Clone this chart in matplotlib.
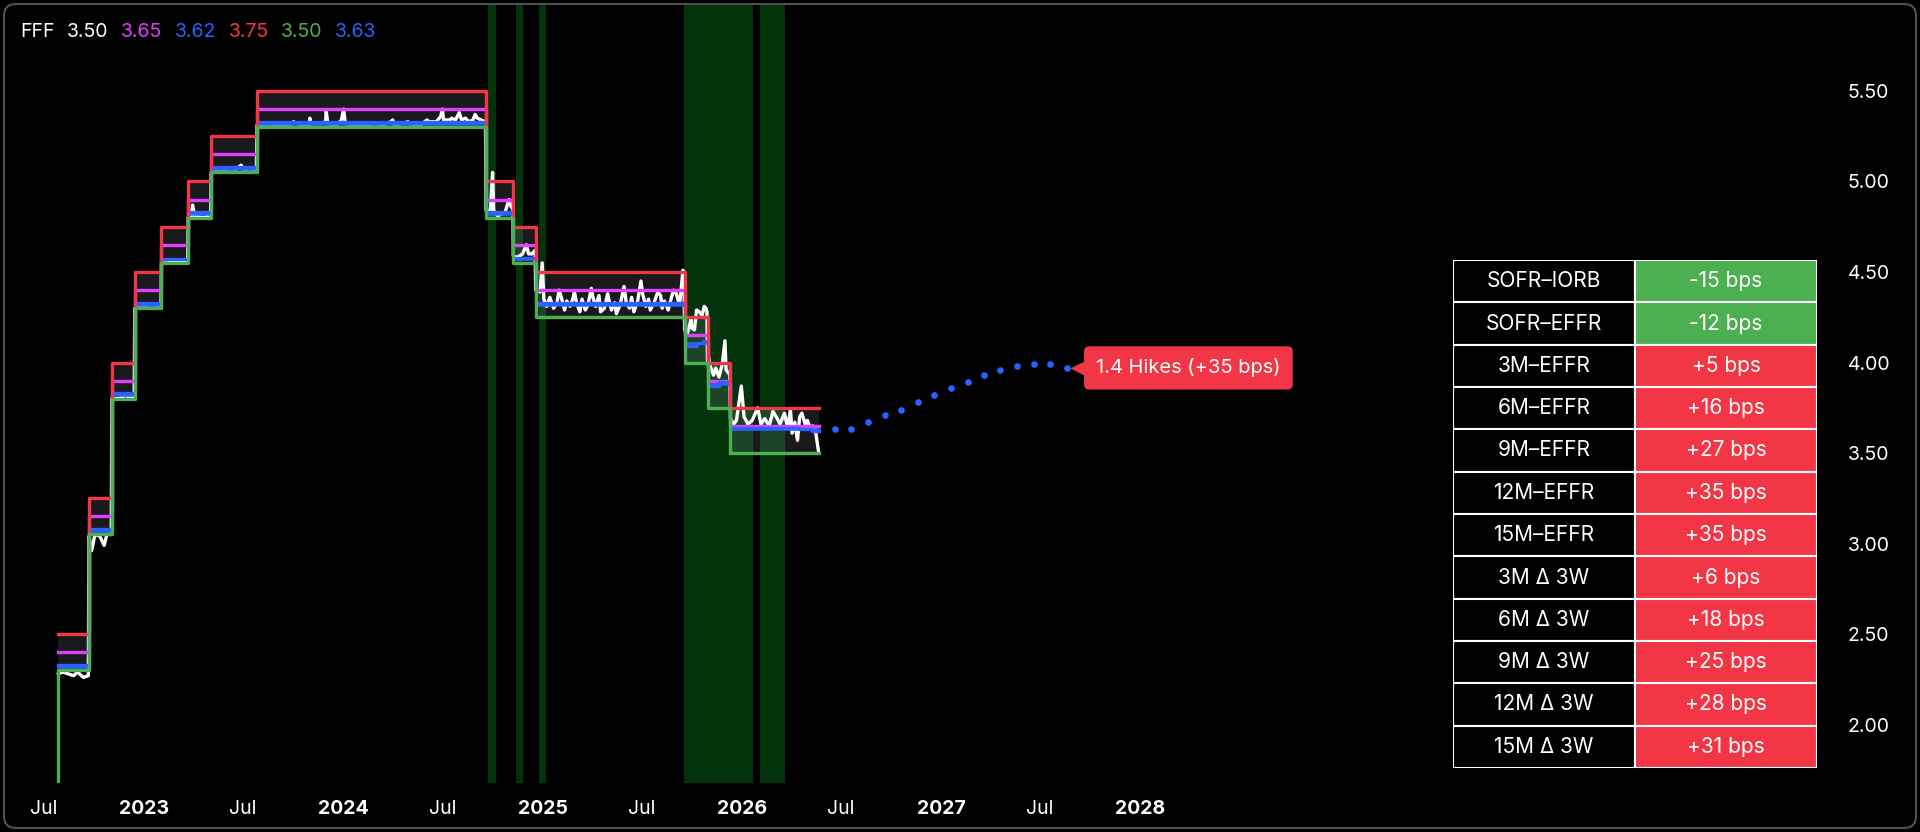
import numpy as np
import pandas as pd
import matplotlib
matplotlib.use('Agg')
import matplotlib.pyplot as plt
import matplotlib.dates as mdates
from matplotlib.patches import FancyBboxPatch, Rectangle
from matplotlib.transforms import IdentityTransform, offset_copy

plt.rcParams['font.family'] = ['Inter', 'DejaVu Sans']

# policy corridor, one value per FOMC regime (effective dates)
regime_start = ['2022-07-28', '2022-09-22', '2022-11-03', '2022-12-15', '2023-02-02',
                '2023-03-23', '2023-05-04', '2023-07-27', '2024-09-19', '2024-11-08',
                '2024-12-19', '2025-09-18', '2025-10-30', '2025-12-11']
last_day = '2026-05-22'
upper = [2.50, 3.25, 4.00, 4.50, 4.75, 5.00, 5.25, 5.50, 5.00, 4.75, 4.50, 4.25, 4.00, 3.75]
iorb = [2.40, 3.15, 3.90, 4.40, 4.65, 4.90, 5.15, 5.40, 4.90, 4.65, 4.40, 4.15, 3.90, 3.65]
rrp = [2.30, 3.05, 3.80, 4.30, 4.55, 4.80, 5.05, 5.30, 4.80, 4.55, 4.25, 4.00, 3.75, 3.50]
obfr = [2.32, 3.07, 3.82, 4.32, 4.57, 4.82, 5.07, 5.32, 4.82, 4.57, 4.32, 4.11, 3.88, 3.63]
rrp_before = 1.55

effr_dates = ['2022-07-28', '2022-09-22', '2022-11-03', '2022-12-15', '2023-02-02',
              '2023-03-23', '2023-05-04', '2023-07-27', '2024-09-19', '2024-11-08',
              '2024-12-19', '2025-09-18', '2025-10-10', '2025-10-22', '2025-10-30',
              '2025-11-20', '2025-12-11', '2026-03-01', '2026-04-15', '2026-05-10', '2026-05-22']
effr_vals = [2.33, 3.08, 3.83, 4.33, 4.57, 4.83, 5.08, 5.33, 4.83, 4.58,
             4.33, 4.09, 4.11, 4.12, 3.87, 3.89, 3.64, 3.64, 3.63, 3.62, 3.62]

sofr_dates = [
    '2022-07-28', '2022-08-05', '2022-08-15', '2022-08-25', '2022-09-01', '2022-09-12', '2022-09-21',
    '2022-09-22', '2022-09-27', '2022-10-03', '2022-10-12', '2022-10-20', '2022-10-25', '2022-11-02',
    '2022-11-03', '2022-11-15', '2022-11-30', '2022-12-05', '2022-12-14',
    '2022-12-15', '2022-12-30', '2023-01-10', '2023-01-20', '2023-02-01',
    '2023-02-02', '2023-02-15', '2023-02-28', '2023-03-10', '2023-03-22',
    '2023-03-23', '2023-03-29', '2023-03-31', '2023-04-04', '2023-04-18', '2023-05-03',
    '2023-05-04', '2023-05-20', '2023-06-12', '2023-06-28', '2023-07-03', '2023-07-14', '2023-07-26',
    '2023-07-27', '2023-08-15', '2023-09-01', '2023-09-20', '2023-10-02', '2023-10-16', '2023-10-31',
    '2023-11-01', '2023-11-03', '2023-11-20', '2023-11-30', '2023-12-01', '2023-12-04', '2023-12-20',
    '2023-12-29', '2024-01-02', '2024-01-05', '2024-01-25', '2024-02-15', '2024-03-01', '2024-03-15',
    '2024-03-28', '2024-04-01', '2024-04-04', '2024-04-29', '2024-05-01', '2024-05-20', '2024-06-03',
    '2024-06-06', '2024-06-20', '2024-06-28', '2024-07-01', '2024-07-03', '2024-07-15', '2024-07-18',
    '2024-07-25', '2024-08-01', '2024-08-05', '2024-08-12', '2024-08-19', '2024-08-26', '2024-08-30',
    '2024-09-03', '2024-09-10', '2024-09-18',
    '2024-09-19', '2024-09-27', '2024-10-01', '2024-10-03', '2024-10-10', '2024-10-18', '2024-10-24',
    '2024-10-31', '2024-11-04', '2024-11-07',
    '2024-11-08', '2024-11-15', '2024-11-25', '2024-12-02', '2024-12-06', '2024-12-12', '2024-12-18',
    '2024-12-19', '2024-12-27', '2024-12-31', '2025-01-03', '2025-01-08', '2025-01-14', '2025-01-21',
    '2025-01-27', '2025-01-31', '2025-02-04', '2025-02-10', '2025-02-14', '2025-02-20', '2025-02-25',
    '2025-02-28', '2025-03-04', '2025-03-10', '2025-03-14', '2025-03-20', '2025-03-25', '2025-03-31',
    '2025-04-03', '2025-04-08', '2025-04-14', '2025-04-17', '2025-04-24', '2025-04-30', '2025-05-02',
    '2025-05-07', '2025-05-13', '2025-05-16', '2025-05-23', '2025-05-30', '2025-06-03', '2025-06-09',
    '2025-06-13', '2025-06-17', '2025-06-24', '2025-06-30', '2025-07-03', '2025-07-09', '2025-07-14',
    '2025-07-17', '2025-07-24', '2025-07-31', '2025-08-05', '2025-08-08', '2025-08-12', '2025-08-19',
    '2025-08-25', '2025-08-29', '2025-09-03', '2025-09-08', '2025-09-10', '2025-09-15', '2025-09-17',
    '2025-09-18', '2025-09-22', '2025-09-30', '2025-10-01', '2025-10-06', '2025-10-10', '2025-10-15',
    '2025-10-20', '2025-10-24', '2025-10-27', '2025-10-29',
    '2025-10-30', '2025-10-31', '2025-11-04', '2025-11-10', '2025-11-14', '2025-11-20', '2025-11-26',
    '2025-12-01', '2025-12-03', '2025-12-08', '2025-12-10',
    '2025-12-11', '2025-12-17', '2025-12-22', '2025-12-31', '2026-01-05', '2026-01-12', '2026-01-20',
    '2026-01-30', '2026-02-05', '2026-02-12', '2026-02-20', '2026-02-27', '2026-03-05', '2026-03-12',
    '2026-03-20', '2026-03-26', '2026-03-31', '2026-04-03', '2026-04-08', '2026-04-13', '2026-04-17',
    '2026-04-21', '2026-04-27', '2026-05-01', '2026-05-06', '2026-05-11', '2026-05-15', '2026-05-19',
    '2026-05-22']
sofr_vals = [
    2.28, 2.29, 2.28, 2.27, 2.29, 2.26, 2.27,
    3.04, 2.96, 3.05, 3.04, 2.99, 3.05, 3.05,
    3.80, 3.80, 3.82, 3.80, 3.81,
    4.30, 4.31, 4.30, 4.30, 4.31,
    4.55, 4.55, 4.56, 4.55, 4.57,
    4.80, 4.81, 4.87, 4.81, 4.80, 4.81,
    5.05, 5.06, 5.05, 5.09, 5.06, 5.05, 5.06,
    5.31, 5.30, 5.31, 5.30, 5.33, 5.31, 5.31,
    5.35, 5.32, 5.32, 5.33, 5.39, 5.32, 5.31,
    5.34, 5.40, 5.32, 5.31, 5.31, 5.32, 5.31,
    5.33, 5.34, 5.31, 5.33, 5.32, 5.31, 5.34,
    5.33, 5.33, 5.36, 5.40, 5.34, 5.34, 5.35,
    5.34, 5.38, 5.34, 5.35, 5.33, 5.34, 5.37,
    5.35, 5.34, 5.33,
    4.84, 4.84, 5.05, 4.84, 4.81, 4.82, 4.83,
    4.90, 4.86, 4.85,
    4.59, 4.58, 4.60, 4.65, 4.60, 4.60, 4.62,
    4.40, 4.39, 4.55, 4.35, 4.31, 4.36, 4.30,
    4.33, 4.40, 4.36, 4.29, 4.34, 4.31, 4.35,
    4.39, 4.33, 4.28, 4.35, 4.29, 4.32, 4.41,
    4.36, 4.31, 4.37, 4.28, 4.30, 4.38, 4.35,
    4.29, 4.33, 4.27, 4.32, 4.42, 4.33, 4.30,
    4.36, 4.28, 4.34, 4.45, 4.38, 4.31, 4.35,
    4.29, 4.33, 4.39, 4.37, 4.30, 4.34, 4.29,
    4.36, 4.40, 4.38, 4.32, 4.35, 4.51, 4.40,
    4.18, 4.15, 4.24, 4.19, 4.18, 4.29, 4.28,
    4.26, 4.31, 4.30, 4.28,
    3.99, 4.05, 3.98, 3.93, 3.97, 3.92, 3.99,
    4.12, 3.96, 3.94, 3.93,
    3.69, 3.66, 3.68, 3.87, 3.70, 3.66, 3.68,
    3.75, 3.66, 3.69, 3.65, 3.73, 3.70, 3.66,
    3.72, 3.64, 3.74, 3.61, 3.67, 3.57, 3.70,
    3.72, 3.66, 3.68, 3.64, 3.65, 3.64, 3.56,
    3.50]

# market implied path (monthly)
proj_dates = ['2026-06-20', '2026-07-20', '2026-08-20', '2026-09-20', '2026-10-20',
              '2026-11-20', '2026-12-20', '2027-01-20', '2027-02-20', '2027-03-20',
              '2027-04-20', '2027-05-20', '2027-06-20', '2027-07-20', '2027-08-20']
proj_vals = [3.63, 3.63, 3.67, 3.71, 3.74, 3.78, 3.82, 3.86, 3.89, 3.93, 3.96, 3.98, 3.99, 3.99, 3.97]

band_start = ['2024-09-22', '2024-11-13', '2024-12-25', '2025-09-17', '2026-02-03']
band_end = ['2024-10-07', '2024-11-25', '2025-01-07', '2026-01-21', '2026-03-21']

table_labels = ['SOFR–IORB', 'SOFR–EFFR', '3M–EFFR', '6M–EFFR', '9M–EFFR', '12M–EFFR',
                '15M–EFFR', '3M Δ 3W', '6M Δ 3W', '9M Δ 3W', '12M Δ 3W', '15M Δ 3W']
table_bps = [-15, -12, 5, 16, 27, 35, 35, 6, 18, 25, 28, 31]

RED = '#f23645'
MAG = '#e040fb'
BLUE = '#2962ff'
GREEN = '#4caf50'

W, H = 1920, 832
fig = plt.figure(figsize=(W / 100, H / 100), dpi=100, facecolor='black')
ax = fig.add_axes([5 / W, 1 - 783 / H, (1835 - 5) / W, (783 - 5) / H])
ax.set_facecolor('black')

# step series
rd = pd.to_datetime(regime_start + [last_day])
up_s = upper + [upper[-1]]
io_s = iorb + [iorb[-1]]
rr_s = rrp + [rrp[-1]]
ob_s = obfr + [obfr[-1]]

for s, e in zip(pd.to_datetime(band_start), pd.to_datetime(band_end)):
    ax.axvspan(s, e, color='#03330a', lw=0, zorder=0)

ax.fill_between(rd, rr_s, up_s, step='post', color='#b8b8d8', alpha=0.14, lw=0, zorder=1)
ax.plot(pd.to_datetime(sofr_dates), sofr_vals, color='white', lw=2.4, zorder=2)
ax.plot(rd, io_s, drawstyle='steps-post', color=MAG, lw=2.4, zorder=3)
ax.plot(rd, ob_s, drawstyle='steps-post', color=BLUE, lw=1.8, zorder=3)
ax.plot(pd.to_datetime(effr_dates), effr_vals, drawstyle='steps-post', color=BLUE, lw=2.4, zorder=4)
ax.plot(rd, up_s, drawstyle='steps-post', color=RED, lw=2.4, zorder=5)
gd = pd.to_datetime([regime_start[0]] + regime_start + [last_day])
ax.plot(gd, [rrp_before] + rr_s, drawstyle='steps-post', color=GREEN, lw=2.4, zorder=5)

# projected path
pdts = pd.to_datetime(proj_dates)
ax.plot(pdts, proj_vals, ls='none', marker='o', ms=4.8, color=BLUE, mec='none', zorder=6)
bps = int(round((proj_vals[-1] - effr_vals[-1]) * 100))
hikes = bps / 25
tri = offset_copy(ax.transData, fig=fig, x=8, y=0, units='points')
ax.plot(pdts[-1], proj_vals[-1], marker='<', ms=11, color=RED, mec='none', transform=tri, zorder=7)
ax.annotate(f'{hikes:.1f} Hikes (+{bps} bps)', xy=(pdts[-1], proj_vals[-1]),
            xytext=(21, 0), textcoords='offset points', ha='left', va='center',
            color='white', fontsize=14.5,
            bbox=dict(boxstyle='round,pad=0.6,rounding_size=0.25', fc=RED, ec='none'), zorder=7)

# axes scaling
d0 = mdates.date2num(pd.Timestamp('2023-01-01'))
ppd = 0.5455
ax.set_xlim(d0 + (5 - 144) / ppd, d0 + (1835 - 144) / ppd)
ax.set_ylim(1.677, 5.975)
for sp in ax.spines.values():
    sp.set_visible(False)

ax.yaxis.tick_right()
ax.set_yticks([2.0, 2.5, 3.0, 3.5, 4.0, 4.5, 5.0, 5.5])
ax.set_yticklabels([f'{v:.2f}' for v in [2.0, 2.5, 3.0, 3.5, 4.0, 4.5, 5.0, 5.5]])
ax.tick_params(axis='y', length=0, pad=9, labelsize=14, labelcolor='white')

xt = pd.date_range('2022-07-01', '2028-01-01', freq='6MS')
ax.set_xticks(xt)
ax.set_xticklabels(['Jul' if t.month == 7 else str(t.year) for t in xt])
for lab, t in zip(ax.get_xticklabels(), xt):
    if t.month == 1:
        lab.set_fontweight('bold')
ax.tick_params(axis='x', length=0, pad=12, labelsize=14, labelcolor='white')

# legend line at top left
vals = [sofr_vals[-1], iorb[-1], effr_vals[-1], upper[-1], rrp[-1], obfr[-1]]
cols = ['white', MAG, BLUE, RED, GREEN, BLUE]
prev = fig.text(20 / W, 1 - 32 / H, 'FFF', color='white', fontsize=14, va='center')
for v, c in zip(vals, cols):
    prev = ax.annotate(f'{v:.2f}', xy=(1, 0.5), xycoords=prev, xytext=(9, 0),
                       textcoords='offset points', va='center', color=c, fontsize=14)

# spread table
tx = fig.add_axes([1453 / W, 1 - 768 / H, (1817 - 1453) / W, (768 - 260) / H])
tx.set_xlim(0, 2)
tx.set_ylim(len(table_labels), 0)
tx.axis('off')
for i, (lab, b) in enumerate(zip(table_labels, table_bps)):
    tx.add_patch(Rectangle((0, i), 1, 1, fc='black', ec='white', lw=1.5))
    tx.add_patch(Rectangle((1, i), 1, 1, fc=GREEN if b < 0 else RED, ec='white', lw=1.5))
    tx.text(0.5, i + 0.5, lab, ha='center', va='center', color='white', fontsize=15)
    tx.text(1.5, i + 0.5, f'{b:+d} bps', ha='center', va='center', color='white', fontsize=15)

# outer frame
fig.add_artist(FancyBboxPatch((4, 4), W - 8, H - 8, boxstyle='round,pad=0,rounding_size=12',
                              transform=IdentityTransform(), fc='none', ec='#505050', lw=1.5))

fig.savefig('out.png', dpi=100, facecolor='black')
